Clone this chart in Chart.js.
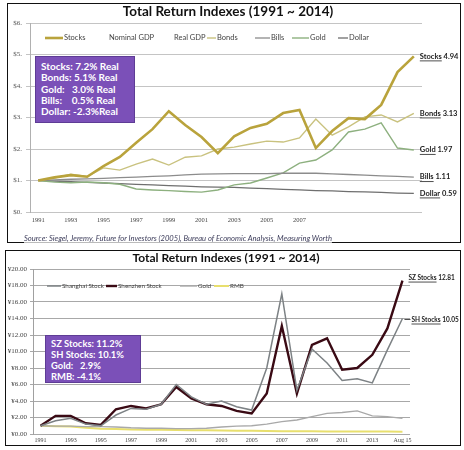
<!DOCTYPE html>
<html>
<head>
<meta charset="utf-8">
<script src="https://cdn.jsdelivr.net/npm/chart.js@4.4.0/dist/chart.umd.min.js"></script>
<style>
  body { margin: 0; background: #fff; width: 464px; height: 450px; position: relative; overflow: hidden; font-family: Lato, 'Liberation Sans', sans-serif; }
  canvas { position: absolute; left: 0; }
  #c1 { top: 0; }
  #c2 { top: 248px; }
  .frame { position: absolute; box-sizing: border-box; border: 1.5px solid #111; pointer-events: none; }
  .title { position: absolute; left: 0; width: 464px; text-align: center; font-weight: bold; color: #111; white-space: nowrap; }
  .box { position: absolute; box-sizing: border-box; background: #7b50b8; border: 1px solid #5e3c95; color: #fff; font-weight: bold; white-space: pre; }
  .src { position: absolute; left: 24px; top: 233px; font-size: 7.6px; font-style: italic; color: #3c3c5a; white-space: nowrap; text-decoration: underline; text-decoration-color: #bbb; }
</style>
</head>
<body>
<canvas id="c1" width="464" height="246"></canvas>
<canvas id="c2" width="464" height="202"></canvas>

<div class="frame" style="left:7px;top:3px;width:454px;height:240px"></div>
<div class="frame" style="left:5px;top:250px;width:456px;height:196px"></div>

<div class="title" style="top:3px;font-size:13.5px;line-height:16px;left:-4px">Total Return Indexes (1991 ~ 2014)</div>
<div class="title" style="top:250px;font-size:12px;line-height:15px;left:-6px">Total Return Indexes (1991 ~ 2014)</div>

<div class="box" style="left:35px;top:56px;width:100px;height:67px;font-size:10px;line-height:11.3px;padding:4px 0 0 5px">Stocks: 7.2% Real
Bonds: 5.1% Real
Gold:   3.0% Real
Bills:    0.5% Real
Dollar: -2.3%Real</div>
<div class="box" style="left:45px;top:335px;width:96px;height:48px;font-size:9.4px;line-height:11px;padding:2px 0 0 5px">SZ Stocks: 11.2%
SH Stocks: 10.1%
Gold:   2.9%
RMB: -4.1%</div>

<div class="src">Source: Siegel, Jeremy, Future for Investors (2005), Bureau of Economic Analysis, Measuring Worth</div>

<script>
// ===== data: world asset classes (top) =====
const years = ['1991','1992','1993','1994','1995','1996','1997','1998','1999','2000','2001','2002',
               '2003','2004','2005','2006','2007','2008','2009','2010','2011','2012','2013','2014'];
const yearTicks = ['1991','1993','1995','1997','1999','2001','2003','2005','2007'];
const dollarTicks = [0, 1, 2, 3, 4, 5, 6];

const stocks = [1.0,1.1,1.17,1.12,1.46,1.75,2.2,2.63,3.2,2.76,2.38,1.87,2.4,2.67,2.8,3.14,3.24,2.03,2.57,2.98,2.95,3.4,4.44,4.94];
const bonds  = [1.0,1.08,1.2,1.13,1.4,1.33,1.52,1.68,1.49,1.74,1.78,2.0,2.06,2.16,2.25,2.22,2.35,2.95,2.44,2.7,3.02,3.08,2.86,3.13];
const bills  = [1.0,1.02,1.04,1.05,1.07,1.09,1.11,1.13,1.15,1.18,1.2,1.21,1.22,1.22,1.22,1.23,1.23,1.23,1.21,1.19,1.17,1.15,1.13,1.11];
const gold   = [1.0,0.95,0.93,0.95,0.93,0.88,0.73,0.7,0.68,0.65,0.63,0.7,0.86,0.92,1.08,1.24,1.55,1.65,1.97,2.54,2.63,2.83,2.03,1.97];
const dollar = [1.0,0.98,0.96,0.94,0.92,0.9,0.88,0.86,0.84,0.82,0.8,0.79,0.78,0.76,0.74,0.72,0.7,0.68,0.67,0.65,0.64,0.62,0.6,0.59];

// ===== data: China (bottom) =====
const periods = ['1991','1992','1993','1994','1995','1996','1997','1998','1999','2000','2001','2002',
                 '2003','2004','2005','2006','2007','2008','2009','2010','2011','2012','2013','2014','Aug 15'];
const periodTicks = ['1991','1993','1995','1997','1999','2001','2003','2005','2007','2009','2011','2013','Aug 15'];
const yuanTicks = [0, 2, 4, 6, 8, 10, 12, 14, 16, 18, 20];

const shanghai = [1.0,1.6,1.9,1.2,1.0,2.3,3.1,3.0,3.6,6.0,4.5,3.6,4.0,3.3,2.9,8.0,17.0,5.3,10.3,8.6,6.5,6.7,6.2,10.2,14.0];
const shenzhen = [1.0,2.2,2.2,1.3,1.1,3.0,3.4,3.1,3.6,5.7,4.3,3.6,3.4,2.8,2.5,4.9,13.1,4.9,10.8,11.6,7.8,8.0,9.6,12.8,18.6];
const goldCn   = [1.0,0.95,0.95,0.9,0.9,0.85,0.75,0.7,0.7,0.65,0.65,0.7,0.85,0.95,1.0,1.2,1.5,1.7,2.1,2.5,2.6,2.8,2.2,2.1,1.9];
const rmb      = [1.0,0.95,0.9,0.75,0.65,0.6,0.55,0.52,0.5,0.48,0.46,0.44,0.42,0.4,0.38,0.36,0.34,0.33,0.32,0.31,0.3,0.3,0.29,0.29,0.28];
const cnEndNames  = ['SZ Stocks', 'SH Stocks'];
const cnEndValues = ['12.81', '10.05'];

// legend drawn inside the plot at fixed spots
const posLegend = {
  id: 'posLegend',
  afterDraw(chart, args, opts) {
    const ctx = chart.ctx;
    ctx.save();
    ctx.font = opts.font;
    ctx.textBaseline = 'middle';
    chart.data.datasets.forEach((ds, i) => {
      const x = opts.xs[i];
      const len = opts.lens[i];
      if (len > 0) {
        ctx.strokeStyle = ds.borderColor;
        ctx.lineWidth = ds.borderWidth;
        ctx.beginPath();
        ctx.moveTo(x, opts.y);
        ctx.lineTo(x + len, opts.y);
        ctx.stroke();
      }
      ctx.fillStyle = opts.color;
      ctx.fillText(ds.label, x + len + 1, opts.y);
    });
    ctx.restore();
  }
};

// names + values next to the last point
const endLabels = {
  id: 'endLabels',
  afterDatasetsDraw(chart, args, opts) {
    const ctx = chart.ctx;
    ctx.save();
    ctx.font = opts.font;
    ctx.textBaseline = 'middle';
    ctx.fillStyle = opts.color;
    ctx.strokeStyle = opts.color;
    chart.data.datasets.forEach((ds, i) => {
      if (!ds.endName) return;
      const pts = chart.getDatasetMeta(i).data;
      const p = pts[pts.length - 1];
      const x = p.x + opts.gap + (ds.endLeader || 0);
      const y = p.y + (ds.endDy || 0);
      ctx.lineWidth = 0.8;
      if (ds.endLeader) {
        ctx.beginPath();
        ctx.moveTo(p.x + 2, y);
        ctx.lineTo(x - 1, y);
        ctx.stroke();
      }
      const w = ctx.measureText(ds.endName).width;
      ctx.fillText(ds.endName, x, y);
      ctx.beginPath();
      ctx.moveTo(x, y + 4.5);
      ctx.lineTo(x + w, y + 4.5);
      ctx.stroke();
      ctx.fillText(' ' + ds.endValue, x + w, y);
    });
    ctx.restore();
  }
};

function lineSet(label, data, color, width, extra) {
  return Object.assign({
    label, data,
    borderColor: color,
    backgroundColor: color,
    borderWidth: width,
    pointRadius: 0,
    tension: 0,
    fill: false,
  }, extra || {});
}

const last = arr => arr[arr.length - 1].toFixed(2);

// ===== top chart =====
new Chart(document.getElementById('c1'), {
  type: 'line',
  data: {
    labels: years,
    datasets: [
      lineSet('Stocks', stocks, '#b9a33c', 2.6, { endName: 'Stocks', endValue: last(stocks) }),
      lineSet('Nominal GDP', [], 'rgba(0,0,0,0)', 1),
      lineSet('Real GDP', [], 'rgba(0,0,0,0)', 1),
      lineSet('Bonds', bonds, '#c9c27f', 1.4, { endName: 'Bonds', endValue: last(bonds) }),
      lineSet('Bills', bills, '#8c8c8c', 1.3, { endName: 'Bills', endValue: last(bills) }),
      lineSet('Gold', gold, '#8db07f', 1.4, { endName: 'Gold', endValue: last(gold) }),
      lineSet('Dollar', dollar, '#6f6f6f', 1.3, { endName: 'Dollar', endValue: last(dollar) }),
    ],
  },
  options: {
    responsive: false,
    animation: false,
    devicePixelRatio: 1,
    layout: { padding: { left: 0, right: 42, top: 23, bottom: 14 } },
    plugins: {
      legend: { display: false },
      tooltip: { enabled: false },
      posLegend: {
        y: 38, font: '7.5px Lato', color: '#444',
        xs:   [45, 108, 173, 207, 255, 292, 338],
        lens: [18, 0, 0, 9, 15, 17, 10],
      },
      endLabels: { font: 'bold 7.5px Lato', color: '#222', gap: 6 },
    },
    scales: {
      x: {
        offset: true,
        afterFit: s => { s.height = 20; },
        grid: { display: false, drawTicks: false },
        border: { display: false },
        ticks: {
          autoSkip: false, maxRotation: 0, padding: 4,
          color: '#444', font: { family: 'Liberation Serif', size: 6.5 },
          callback: (v, i) => yearTicks.includes(years[i]) ? years[i] : '',
        },
      },
      y: {
        min: 0, max: 6,
        afterFit: s => { s.width = 30; },
        afterBuildTicks: s => { s.ticks = dollarTicks.map(v => ({ value: v })); },
        grid: { color: '#c4c4c4', lineWidth: 1, tickLength: 4 },
        border: { color: '#b0b0b0' },
        ticks: {
          padding: 4, color: '#555', font: { family: 'Liberation Serif', size: 7 },
          callback: v => '$' + v + '.',
        },
      },
    },
  },
  plugins: [posLegend, endLabels],
});

// ===== bottom chart =====
new Chart(document.getElementById('c2'), {
  type: 'line',
  data: {
    labels: periods,
    datasets: [
      lineSet('Shanghai Stock', shanghai, '#7d8285', 1.5, { endName: cnEndNames[1], endValue: cnEndValues[1], endLeader: 3, endDy: 1 }),
      lineSet('Shenzhen Stock', shenzhen, '#3a0a14', 2.4, { endName: cnEndNames[0], endValue: cnEndValues[0], endDy: -3 }),
      lineSet('Gold', goldCn, '#a9a9a9', 1.4),
      lineSet('RMB', rmb, '#e8df6e', 2),
    ],
  },
  options: {
    responsive: false,
    animation: false,
    devicePixelRatio: 1,
    layout: { padding: { left: 0, right: 54, top: 21, bottom: 2 } },
    plugins: {
      legend: { display: false },
      tooltip: { enabled: false },
      posLegend: {
        y: 38, font: '6.3px Lato', color: '#444',
        xs:   [47, 106, 180, 214],
        lens: [14, 11, 17, 15],
      },
      endLabels: { font: 'bold 6.5px Lato', color: '#222', gap: 6 },
    },
    scales: {
      x: {
        offset: true,
        afterFit: s => { s.height = 14; },
        grid: { display: false, drawTicks: false },
        border: { display: false },
        ticks: {
          autoSkip: false, maxRotation: 0, padding: 3,
          color: '#444', font: { family: 'Liberation Serif', size: 6 },
          callback: (v, i) => periodTicks.includes(periods[i]) ? periods[i] : '',
        },
      },
      y: {
        min: 0, max: 20,
        afterFit: s => { s.width = 33; },
        afterBuildTicks: s => { s.ticks = yuanTicks.map(v => ({ value: v })); },
        grid: { color: '#a8a8a8', lineWidth: 1, tickLength: 3 },
        border: { color: '#a0a0a0' },
        ticks: {
          padding: 3, color: '#444', font: { family: 'Liberation Serif', size: 7 },
          callback: v => '¥' + v.toFixed(2),
        },
      },
    },
  },
  plugins: [posLegend, endLabels],
});
</script>
</body>
</html>
